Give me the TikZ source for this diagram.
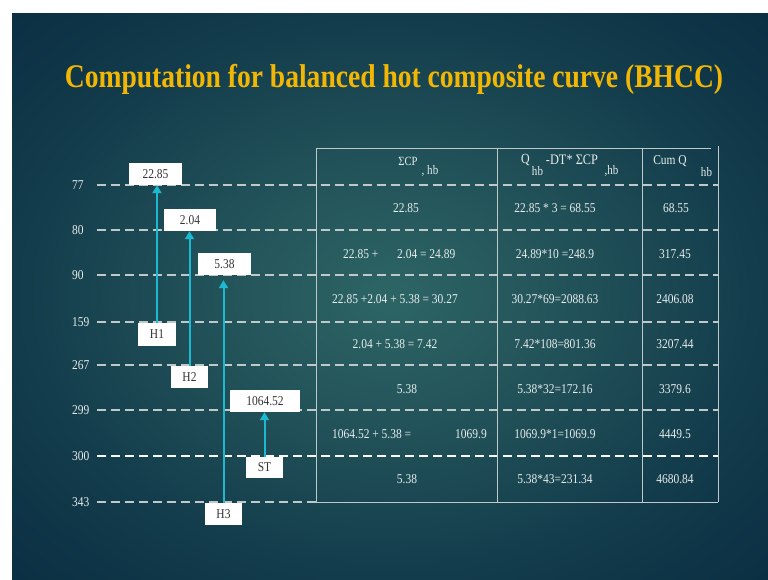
\documentclass[tikz,border=0pt]{standalone}
\usepackage{fontspec}
\setmainfont{Liberation Serif}
\newfontfamily\tabfont[FakeStretch=0.85]{Liberation Serif}
\newfontfamily\titlefont[FakeStretch=0.835]{Liberation Serif}
\usetikzlibrary{arrows.meta}
\definecolor{bgin}{HTML}{2D6565}
\definecolor{bgmid}{HTML}{225259}
\definecolor{bgedge}{HTML}{123B4B}
\definecolor{bgout}{HTML}{0A2F42}
\definecolor{titlecol}{RGB}{242,183,5}
\definecolor{dashcol}{HTML}{C0C9CA}
\definecolor{txtcol}{HTML}{E6ECEC}
\definecolor{arrcol}{HTML}{1CB9D2}
\definecolor{boxtxt}{HTML}{333333}
\pgfdeclareradialshading{slidebg}{\pgfpoint{0bp}{0bp}}{color(0bp)=(bgin); color(12bp)=(bgmid); color(25bp)=(bgedge); color(36bp)=(bgout); color(50bp)=(bgout)}
\tikzset{
  dashline/.style={draw=dashcol, line width=1.5pt, dash pattern=on 9pt off 5pt},
  tabline/.style={draw=dashcol, line width=1pt},
  axlab/.style={font=\tabfont\fontsize{13.5}{16}\selectfont, text=txtcol, inner sep=0pt, anchor=west},
  tabtxt/.style={font=\tabfont\fontsize{13.5}{16}\selectfont, text=txtcol, inner sep=0pt, anchor=base},
  hdsmall/.style={font=\tabfont\fontsize{12.5}{15}\selectfont, text=txtcol, inner sep=0pt, anchor=center},
  hdsub/.style={font=\tabfont\fontsize{13}{15}\selectfont, text=txtcol, inner sep=0pt, anchor=center},
  wbox/.style={fill=white, draw=none, inner sep=0pt, minimum height=22pt, text=boxtxt, font=\tabfont\fontsize{13.5}{16}\selectfont},
  flow/.style={draw=arrcol, line width=2pt, -{Triangle[width=9pt,length=8pt]}}
}
\begin{document}
\begin{tikzpicture}[x=1pt,y=-1pt]
\useasboundingbox (0,0) rectangle (768,579);
\fill[white] (0,0) rectangle (768,579);
\shade[shading=slidebg] (12,13) rectangle (768,579);

% title
\node[font=\titlefont\bfseries\fontsize{33}{40}\selectfont, text=titlecol, anchor=base, inner sep=0pt] (title) at (394,87) {Computation for balanced hot composite curve (BHCC)};

% level lines
\foreach \yy in {185,230,275,322,365,410}
  \draw[dashline] (97,\yy) -- (718,\yy);
\draw[dashline, line width=2.8pt, draw=white!92!dashcol] (97,456) -- (718,456);
\draw[dashline] (97,502) -- (316,502);

% table frame
\draw[tabline] (316,148) -- (711,148);
\draw[tabline] (316,148) -- (316,502);
\draw[tabline] (497,148) -- (497,502);
\draw[tabline] (642,148) -- (642,502);
\draw[tabline] (718,146) -- (718,502);
\draw[tabline] (316,502) -- (718,502);

% axis labels
\node[axlab] (l77) at (72,185) {77};
\node[axlab] (l80) at (72,230) {80};
\node[axlab] (l90) at (72,275) {90};
\node[axlab] (l159) at (72,322) {159};
\node[axlab] (l267) at (72,365) {267};
\node[axlab] (l299) at (72,410) {299};
\node[axlab] (l300) at (72,456) {300};
\node[axlab] (l343) at (72,502) {343};

% stream boxes
\node[wbox, minimum width=53pt] (b2285) at (155.5,174) {22.85};
\node[wbox, minimum width=52pt] (b204) at (190,220) {2.04};
\node[wbox, minimum width=53pt] (b538) at (224.5,264) {5.38};
\node[wbox, minimum width=70pt] (b1064) at (265,401) {1064.52};
\node[wbox, minimum width=38pt, minimum height=23pt] (h1) at (157,334.5) {H1};
\node[wbox, minimum width=37pt] (h2) at (189.5,377) {H2};
\node[wbox, minimum width=37pt, minimum height=21pt] (st) at (264.5,467.5) {ST};
\node[wbox, minimum width=37pt] (h3) at (223.5,514) {H3};

% arrows
\draw[flow] (h1.north) -- (h1.north |- b2285.south);
\draw[flow] (h2.north) -- (h2.north |- b204.south);
\draw[flow] (h3.north) -- ([yshift=-5pt]h3.north |- b538.south);
\draw[flow] (st.north) -- (st.north |- b1064.south);

% headers
\node[hdsmall] (hA1) at (408,161) {ΣCP};
\node[hdsub] (hA2) at (430,171) {, hb};
\node[hdsmall, font=\tabfont\fontsize{14}{16}\selectfont] (hB1) at (525.5,160) {Q};
\node[hdsub] (hB2) at (537.5,171) {hb};
\node[hdsmall, font=\tabfont\fontsize{14.5}{17}\selectfont] (hB3) at (572,160) {-DT* ΣCP};
\node[hdsub] (hB4) at (611.5,171) {,hb};
\node[hdsmall, font=\tabfont\fontsize{13.5}{16}\selectfont] (hC1) at (670,161) {Cum Q};
\node[hdsub] (hC2) at (706.5,172) {hb};

% column 2
\node[tabtxt] (a1) at (406,212) {22.85};
\node[tabtxt, anchor=base west] (a2a) at (343,258) {22.85 +};
\node[tabtxt, anchor=base west] (a2b) at (397,258) {2.04 = 24.89};
\node[tabtxt] (a3) at (395,303) {22.85 +2.04 + 5.38 = 30.27};
\node[tabtxt] (a4) at (395,348) {2.04 + 5.38 = 7.42};
\node[tabtxt] (a5) at (407,393) {5.38};
\node[tabtxt, anchor=base west] (a6a) at (332,438) {1064.52 + 5.38 =};
\node[tabtxt, anchor=base west] (a6b) at (455,438) {1069.9};
\node[tabtxt] (a7) at (407,483) {5.38};

% column 3
\node[tabtxt] (c1) at (555,212) {22.85 * 3 = 68.55};
\node[tabtxt] (c2) at (555,258) {24.89*10 =248.9};
\node[tabtxt] (c3) at (555,303) {30.27*69=2088.63};
\node[tabtxt] (c4) at (555,348) {7.42*108=801.36};
\node[tabtxt] (c5) at (555,393) {5.38*32=172.16};
\node[tabtxt] (c6) at (555,438) {1069.9*1=1069.9};
\node[tabtxt] (c7) at (555,483) {5.38*43=231.34};

% column 4
\node[tabtxt] (d1) at (676,212) {68.55};
\node[tabtxt] (d2) at (675,258) {317.45};
\node[tabtxt] (d3) at (675,303) {2406.08};
\node[tabtxt] (d4) at (675,348) {3207.44};
\node[tabtxt] (d5) at (675,393) {3379.6};
\node[tabtxt] (d6) at (675,438) {4449.5};
\node[tabtxt] (d7) at (675,483) {4680.84};
\end{tikzpicture}
\end{document}
